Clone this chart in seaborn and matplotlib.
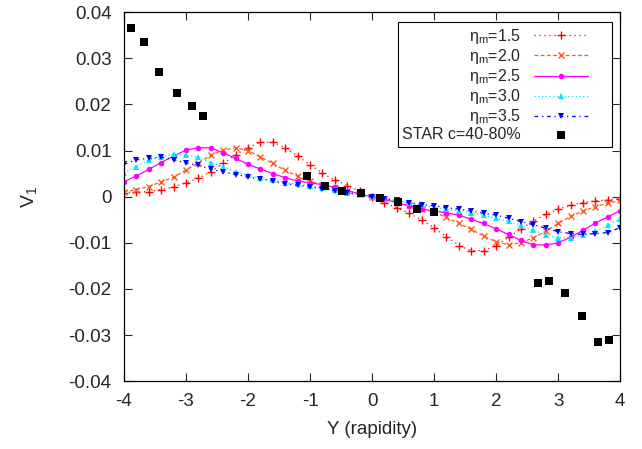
import numpy as np
import pandas as pd
import matplotlib
matplotlib.use("Agg")
import matplotlib.pyplot as plt
import matplotlib.ticker as mticker
from matplotlib.lines import Line2D
from matplotlib.collections import PathCollection
from matplotlib.legend_handler import HandlerLine2D, HandlerPathCollection
import seaborn as sns

# ---- data ----
rapidity = [-4.0, -3.8, -3.6, -3.4, -3.2, -3.0, -2.8, -2.6, -2.4, -2.2, -2.0,
            -1.8, -1.6, -1.4, -1.2, -1.0, -0.8, -0.6, -0.4, -0.2, 0.0,
            0.2, 0.4, 0.6, 0.8, 1.0, 1.2, 1.4, 1.6, 1.8, 2.0,
            2.2, 2.4, 2.6, 2.8, 3.0, 3.2, 3.4, 3.6, 3.8, 4.0]

v1_eta15 = [0.0009, 0.0010, 0.0011, 0.0015, 0.0021, 0.0030, 0.0040, 0.0054, 0.0072, 0.0090, 0.0106,
            0.0118, 0.0118, 0.0106, 0.0088, 0.0069, 0.0051, 0.0036, 0.0024, 0.0012, 0.0,
            -0.0013, -0.0024, -0.0036, -0.0051, -0.0067, -0.0087, -0.0106, -0.0117, -0.0117, -0.0106,
            -0.0088, -0.0070, -0.0053, -0.0038, -0.0027, -0.0019, -0.0013, -0.0009, -0.0007, -0.0005]

v1_eta20 = [0.0011, 0.0015, 0.0022, 0.0032, 0.0042, 0.0058, 0.0073, 0.0090, 0.0101, 0.0106, 0.0100,
            0.0086, 0.0072, 0.0057, 0.0044, 0.0033, 0.0026, 0.0019, 0.0013, 0.0006, 0.0,
            -0.0006, -0.0013, -0.0019, -0.0026, -0.0034, -0.0045, -0.0058, -0.0071, -0.0085, -0.0098,
            -0.0104, -0.0100, -0.0089, -0.0075, -0.0058, -0.0043, -0.0031, -0.0022, -0.0014, -0.0008]

v1_eta25 = [0.0032, 0.0045, 0.0059, 0.0074, 0.0088, 0.0101, 0.0106, 0.0106, 0.0095, 0.0083, 0.0070,
            0.0060, 0.0050, 0.0041, 0.0034, 0.0030, 0.0026, 0.0020, 0.0013, 0.0006, 0.0,
            -0.0006, -0.0013, -0.0020, -0.0027, -0.0031, -0.0035, -0.0040, -0.0049, -0.0058, -0.0070,
            -0.0082, -0.0095, -0.0104, -0.0105, -0.0100, -0.0088, -0.0073, -0.0057, -0.0044, -0.0030]

v1_eta30 = [0.0051, 0.0065, 0.0079, 0.0087, 0.0092, 0.0090, 0.0085, 0.0074, 0.0065, 0.0054, 0.0047,
            0.0040, 0.0036, 0.0030, 0.0027, 0.0023, 0.0019, 0.0014, 0.0009, 0.0005, 0.0,
            -0.0005, -0.0009, -0.0014, -0.0019, -0.0023, -0.0027, -0.0030, -0.0036, -0.0040, -0.0047,
            -0.0053, -0.0062, -0.0073, -0.0083, -0.0089, -0.0089, -0.0083, -0.0075, -0.0062, -0.0049]

v1_eta35 = [0.0070, 0.0080, 0.0083, 0.0086, 0.0080, 0.0073, 0.0068, 0.0059, 0.0054, 0.0048, 0.0043,
            0.0038, 0.0034, 0.0028, 0.0025, 0.0021, 0.0017, 0.0013, 0.0008, 0.0004, 0.0,
            -0.0004, -0.0008, -0.0013, -0.0017, -0.0020, -0.0024, -0.0027, -0.0031, -0.0036, -0.0040,
            -0.0047, -0.0054, -0.0061, -0.0068, -0.0076, -0.0080, -0.0082, -0.0080, -0.0078, -0.0067]

star_y = [-3.88, -3.68, -3.44, -3.15, -2.91, -2.73, -1.05, -0.76, -0.48, -0.18,
          0.13, 0.42, 0.73, 1.0, 2.68, 2.85, 3.11, 3.38, 3.65, 3.82]
star_v1 = [0.0365, 0.0335, 0.0271, 0.0224, 0.0197, 0.0175, 0.0045, 0.0023, 0.0012, 0.0007,
           -0.0002, -0.0011, -0.0027, -0.0033, -0.0188, -0.0183, -0.0209, -0.0259, -0.0316, -0.0311]

labels = ['1.5', '2.0', '2.5', '3.0', '3.5']

sns.set_style("ticks")
plt.rcParams['font.family'] = ['Liberation Sans', 'DejaVu Sans']
plt.rcParams['mathtext.fontset'] = 'custom'
plt.rcParams['mathtext.rm'] = 'Liberation Sans'
plt.rcParams['mathtext.it'] = 'Liberation Sans'
plt.rcParams['axes.unicode_minus'] = False
plt.rcParams['font.size'] = 12


# gnuplot style key: sample line followed by some empty space on the right
class GapLine(HandlerLine2D):
    def create_artists(self, legend, orig_handle, xdescent, ydescent, width, height, fontsize, trans):
        return super().create_artists(legend, orig_handle, xdescent, ydescent,
                                      width - 1.2 * fontsize, height, fontsize, trans)


class GapPath(HandlerPathCollection):
    def create_artists(self, legend, orig_handle, xdescent, ydescent, width, height, fontsize, trans):
        return super().create_artists(legend, orig_handle, xdescent, ydescent,
                                      width - 1.2 * fontsize, height, fontsize, trans)


fig, ax = plt.subplots(figsize=(6.42, 4.49), dpi=100)
fig.subplots_adjust(left=0.193, right=0.966, top=0.973, bottom=0.151)

df = pd.DataFrame({'Y': rapidity, '1.5': v1_eta15, '2.0': v1_eta20, '2.5': v1_eta25,
                   '3.0': v1_eta30, '3.5': v1_eta35})

styles = {
    '1.5': dict(color='#ff0000', linestyle=(0, (1, 3)), marker='+', markersize=6, mew=1.0),
    '2.0': dict(color='#ff5a1e', linestyle=(0, (3, 2)), marker='x', markersize=5, mew=1.0),
    '2.5': dict(color='#ff00ff', linestyle='-', marker='o', markersize=4, mew=0),
    '3.0': dict(color='#00e5ff', linestyle=(0, (1, 2)), marker='^', markersize=4, mew=0),
    '3.5': dict(color='#0000ff', linestyle=(0, (3, 3, 1, 3)), marker='v', markersize=4, mew=0),
}

for lab in labels:
    st = styles[lab]
    sns.lineplot(data=df, x='Y', y=lab, ax=ax, color=st['color'], linestyle=st['linestyle'],
                 marker=st['marker'], markersize=st['markersize'], markeredgewidth=st['mew'],
                 markeredgecolor=st['color'], linewidth=0.9,
                 label='η$_\\mathrm{m}$=' + lab)

sns.scatterplot(x=star_y, y=star_v1, ax=ax, marker='s', color='black', s=36,
                edgecolor='black', linewidth=0, label='STAR c=40-80%', zorder=5)

ax.set_xlim(-4, 4)
ax.set_ylim(-0.04, 0.04)
ax.set_xticks(range(-4, 5))
ax.set_yticks([-0.04, -0.03, -0.02, -0.01, 0, 0.01, 0.02, 0.03, 0.04])
ax.yaxis.set_major_formatter(mticker.FuncFormatter(lambda v, _: '0' if abs(v) < 1e-9 else f'{v:.2f}'))
ax.tick_params(direction='in', top=True, right=True, length=6, width=0.8, labelsize=13.5)
ax.tick_params(axis='y', pad=9)
ax.tick_params(axis='x', pad=8.5)
for sp in ax.spines.values():
    sp.set_linewidth(0.9)
    sp.set_color('black')

ax.set_xlabel('Y (rapidity)', fontsize=13.5)
ax.set_ylabel('V$_1$', fontsize=14)
ax.xaxis.set_label_coords(0.5, -0.108)
ax.yaxis.set_label_coords(-0.172, 0.5)

leg = ax.legend(loc='upper right', bbox_to_anchor=(0.984, 0.973), markerfirst=False,
                frameon=True, fancybox=False, edgecolor='black', framealpha=1,
                fontsize=11.5, handlelength=4.6, handletextpad=0.8, labelspacing=0.07,
                borderpad=0.3, borderaxespad=0, numpoints=1, scatterpoints=1,
                handler_map={Line2D: GapLine(), PathCollection: GapPath()})
leg.get_frame().set_linewidth(0.8)

plt.savefig('out.png', dpi=100)
